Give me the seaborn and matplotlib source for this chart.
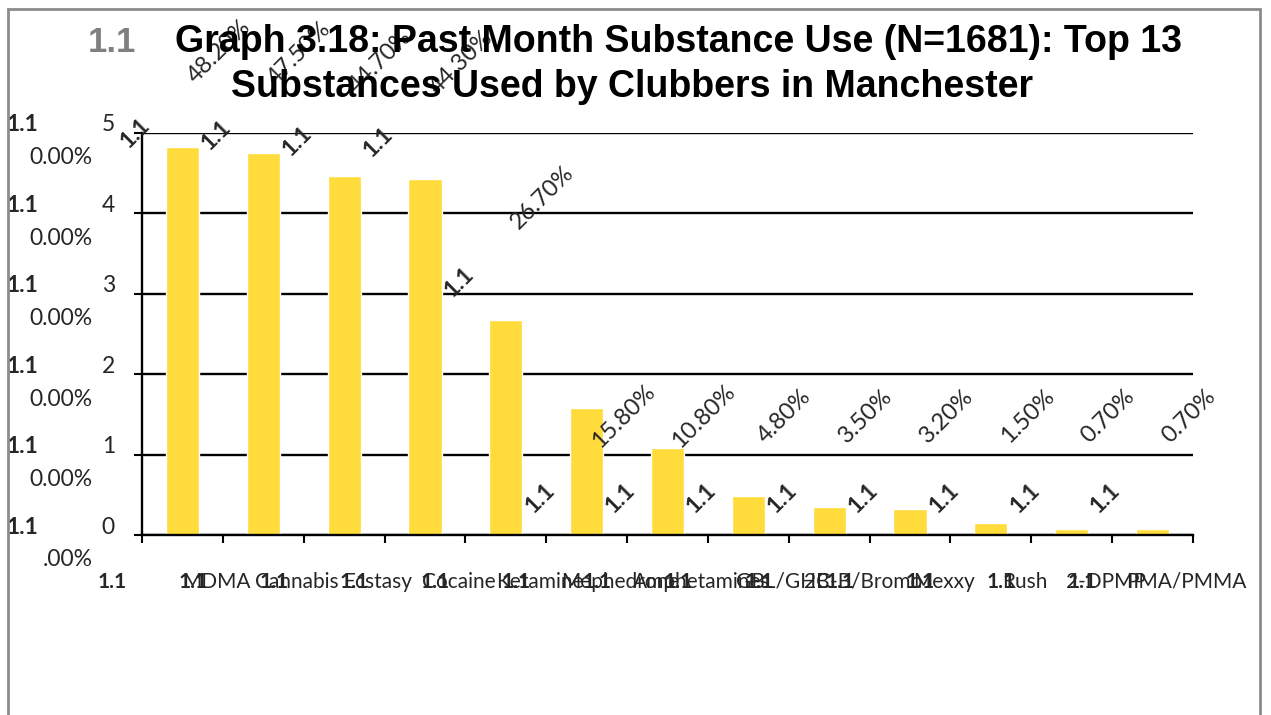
import matplotlib
matplotlib.use("Agg")
import matplotlib.pyplot as plt
from matplotlib.patches import Rectangle
from matplotlib.transforms import blended_transform_factory, offset_copy
import seaborn as sns
import pandas as pd
import numpy as np

# ---- data -------------------------------------------------------------
substances = ["MDMA", "Cannabis", "Ecstasy", "Cocaine", "Ketamine",
              "Mephedrone", "Amphetamines", "GBL/GHB", "2C-B/Bromo",
              "Mexxy", "Rush", "2-DPMP", "PMA/PMMA"]
past_month_pct = [48.2, 47.5, 44.7, 44.3, 26.7, 15.8, 10.8,
                  4.8, 3.5, 3.2, 1.5, 0.7, 0.7]
y_ticks = [0, 10, 20, 30, 40, 50]
section_no = "1.1"
title_main = "Graph 3.18: Past Month Substance Use (N=1681): Top 13"
title_sub = "Substances Used by Clubbers in Manchester"

df = pd.DataFrame({"substance": substances, "pct": past_month_pct})

# ---- figure ------------------------------------------------------------
sns.set_theme(style="white")
plt.rcParams["font.family"] = ["Lato", "DejaVu Sans"]

W, H = 1271, 715
fig = plt.figure(figsize=(W / 100, H / 100), dpi=100)


def fx(px):
    return px / W


def fy(py):
    return 1 - py / H


ax = fig.add_axes([fx(142), fy(535), fx(1193) - fx(142), (535 - 133) / H])

sns.barplot(data=df, x="substance", y="pct", color="#FFDB3B",
            saturation=1, width=0.41, ax=ax)
ax.set_xlim(-0.5, len(substances) - 0.5)
ax.set_ylim(0, 50)
ax.set_xlabel("")
ax.set_ylabel("")

# horizontal gridlines behind the bars
ax.set_yticks(y_ticks)
ax.set_axisbelow(True)
ax.yaxis.grid(True, color="black", linewidth=1.7)
ax.tick_params(axis="y", left=True, length=6, width=1.5, color="black",
               direction="out", labelleft=False)

# category boundary ticks on the x axis
ax.set_xticks(np.arange(-0.5, len(substances), 1.0), minor=True)
ax.tick_params(axis="x", which="major", length=0, labelbottom=False)
ax.tick_params(axis="x", which="minor", bottom=True, length=6, width=1.5,
               color="black", direction="out")

for side in ("top", "right"):
    ax.spines[side].set_visible(False)
for side in ("left", "bottom"):
    ax.spines[side].set_color("black")
    ax.spines[side].set_linewidth(1.7)

# ---- y tick labels (each wrapped onto two lines) -----------------------
ylab_tr = blended_transform_factory(fig.transFigure, ax.transData)


def shift(tr, up_px, right_px=0):
    return offset_copy(tr, fig=fig, x=right_px, y=up_px, units="dots")


for v in y_ticks:
    lab = f"{v:.2f}%"
    ax.text(fx(7), v, section_no, transform=shift(ylab_tr, 8),
            ha="left", va="center", fontsize=16.5, weight="bold")
    ax.text(fx(115), v, lab[0], transform=shift(ylab_tr, 8),
            ha="right", va="center", fontsize=16.5)
    ax.text(fx(93), v, lab[1:], transform=shift(ylab_tr, -25),
            ha="right", va="center", fontsize=16.5)

# ---- x category labels --------------------------------------------------
xlab_tr = blended_transform_factory(ax.transData, fig.transFigure)
for i, name in enumerate(substances):
    ax.text(i + 0.42, fy(582), name, transform=xlab_tr,
            ha="center", va="center", fontsize=15)
    ax.text(i - 0.87, fy(582), section_no, transform=xlab_tr,
            ha="center", va="center", fontsize=15, weight="bold")

# ---- rotated value labels ----------------------------------------------
for i, v in enumerate(past_month_pct):
    if v > 40:
        y_pct = 58.8 + (v - 44.3) * 0.35
        y_sec = 50 - (48.2 - v) * 0.3
    elif v > 20:
        y_pct = v + 15.3
        y_sec = v + 4.8
    else:
        y_pct = 14.8
        y_sec = 4.6
    ax.text(i + 0.45, y_pct, f"{v:.2f}%", rotation=45,
            rotation_mode="anchor", ha="center", va="center", fontsize=17)
    ax.text(i - 0.58, y_sec, section_no, rotation=45, rotation_mode="anchor",
            ha="center", va="center", fontsize=16.5, weight="bold")

# ---- title ---------------------------------------------------------------
tfont = dict(family=["Liberation Sans", "DejaVu Sans"], weight="bold",
             fontsize=27)
fig.text(fx(88), fy(42), section_no, color="#808080", ha="left",
         va="center", family=["Liberation Sans", "DejaVu Sans"],
         weight="bold", fontsize=25)
fig.text(fx(175), fy(42), title_main, color="black", ha="left",
         va="center", **tfont)
fig.text(fx(632), fy(87), title_sub, color="black", ha="center",
         va="center", **tfont)

# ---- chart-area frame ----------------------------------------------------
fig.patches.append(Rectangle((fx(8), fy(720)), fx(1260) - fx(8),
                             fy(9) - fy(720), transform=fig.transFigure,
                             fill=False, edgecolor="#8c8c8c", linewidth=2))

fig.savefig("out.png", dpi=100, facecolor="white")
